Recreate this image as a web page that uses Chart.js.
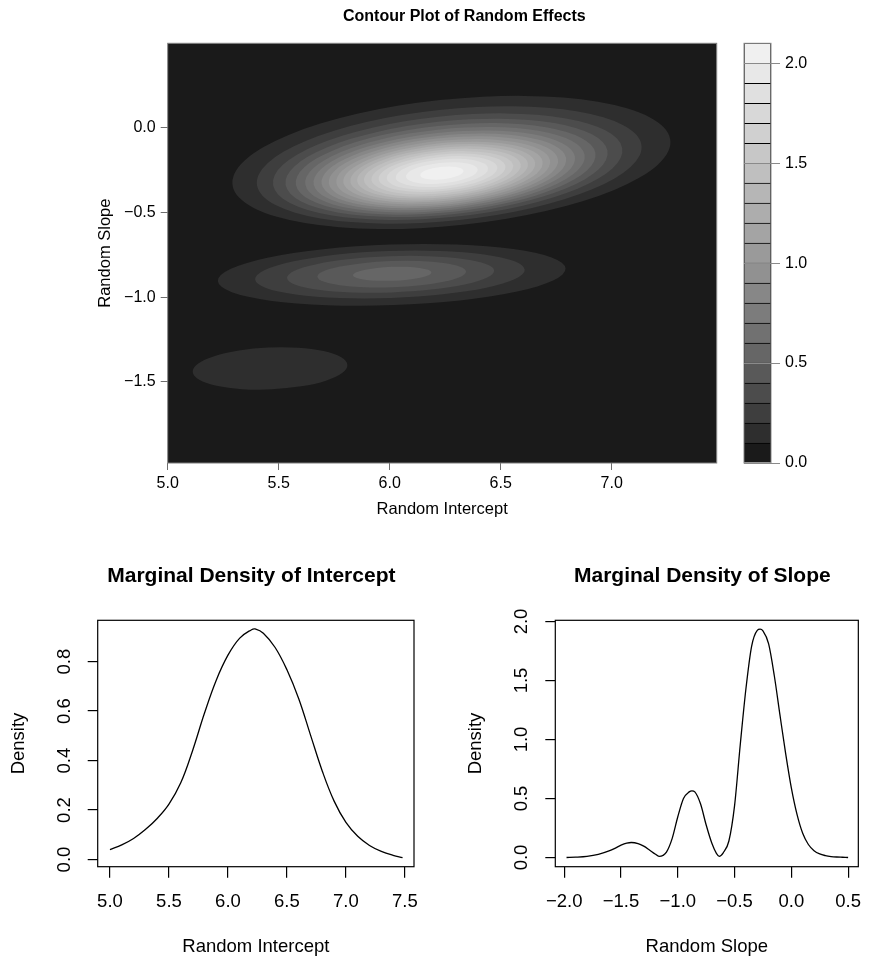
<!DOCTYPE html>
<html>
<head>
<meta charset="utf-8">
<title>Contour Plot of Random Effects</title>
<script src="https://cdn.jsdelivr.net/npm/chart.js@4.4.1/dist/chart.umd.min.js"></script>
<style>
  html, body { margin: 0; padding: 0; background: #fff; overflow: hidden; }
  #figure { position: relative; width: 874px; height: 959px; }
  #figure canvas { position: absolute; }
</style>
</head>
<body>
<div id="figure">
  <canvas id="contour" width="740" height="540" style="left:0;top:0"></canvas>
  <canvas id="key" width="144" height="540" style="left:730px;top:0"></canvas>
  <canvas id="intercept" width="437" height="419" style="left:0;top:540px"></canvas>
  <canvas id="slope" width="437" height="419" style="left:437px;top:540px"></canvas>
</div>
<script>
// ---- data ----

// contour levels of the joint density, one filled ellipse per level
// (centre, half-axes in data units, tilt in degrees)
const upperLevels = [0.1, 0.2, 0.3, 0.4, 0.5, 0.6, 0.7, 0.8, 0.9, 1.0, 1.1, 1.2, 1.3, 1.4, 1.5, 1.6, 1.7, 1.8, 1.9, 2.0];
const upperCx = [6.278, 6.268, 6.261, 6.256, 6.252, 6.249, 6.246, 6.244, 6.242, 6.241, 6.240, 6.239, 6.238, 6.237, 6.237, 6.236, 6.236, 6.235, 6.235, 6.235];
const upperCy = [-0.204, -0.219, -0.229, -0.236, -0.242, -0.247, -0.251, -0.254, -0.257, -0.259, -0.261, -0.262, -0.263, -0.264, -0.265, -0.265, -0.266, -0.266, -0.267, -0.267];
const upperRx = [0.995, 0.874, 0.794, 0.732, 0.681, 0.635, 0.594, 0.556, 0.521, 0.486, 0.453, 0.420, 0.388, 0.356, 0.322, 0.288, 0.251, 0.210, 0.163, 0.098];
const upperRy = [0.372, 0.328, 0.298, 0.275, 0.256, 0.239, 0.223, 0.209, 0.196, 0.183, 0.170, 0.158, 0.146, 0.134, 0.121, 0.108, 0.094, 0.079, 0.061, 0.037];
const upperTilt = 8;

const middleLevels = [0.1, 0.2, 0.3, 0.4, 0.5];
const middleCx = [6.009, 6.001, 6.004, 6.009, 6.011];
const middleCy = [-0.868, -0.866, -0.865, -0.864, -0.862];
const middleRx = [0.784, 0.608, 0.467, 0.335, 0.177];
const middleRy = [0.179, 0.139, 0.107, 0.077, 0.041];
const middleTilt = 2.7;

const lowerLevels = [0.1];
const lowerCx = [5.461];
const lowerCy = [-1.421];
const lowerRx = [0.349];
const lowerRy = [0.124];
const lowerTilt = 3.5;

// colour key breaks
const keyBreaks = [0.0, 0.1, 0.2, 0.3, 0.4, 0.5, 0.6, 0.7, 0.8, 0.9, 1.0, 1.1, 1.2, 1.3, 1.4, 1.5, 1.6, 1.7, 1.8, 1.9, 2.0, 2.1];

// marginal densities
const interceptX = [5.00, 5.10, 5.20, 5.30, 5.40, 5.50, 5.60, 5.70, 5.80, 5.90, 6.00, 6.10, 6.20, 6.23, 6.30, 6.40, 6.50, 6.60, 6.70, 6.80, 6.90, 7.00, 7.10, 7.20, 7.30, 7.40, 7.48];
const interceptDensity = [0.040, 0.059, 0.085, 0.121, 0.166, 0.224, 0.310, 0.440, 0.590, 0.724, 0.826, 0.895, 0.929, 0.932, 0.915, 0.857, 0.767, 0.650, 0.503, 0.357, 0.236, 0.150, 0.094, 0.057, 0.033, 0.017, 0.008];

const slopeX = [-1.98, -1.90, -1.80, -1.70, -1.60, -1.55, -1.50, -1.45, -1.41, -1.35, -1.30, -1.25, -1.20, -1.165, -1.13, -1.10, -1.05, -1.00, -0.95, -0.90, -0.875, -0.85, -0.80, -0.75, -0.70, -0.66, -0.635, -0.60, -0.55, -0.50, -0.45, -0.40, -0.35, -0.30, -0.275, -0.25, -0.20, -0.15, -0.10, -0.05, 0.00, 0.05, 0.10, 0.15, 0.20, 0.25, 0.30, 0.35, 0.40, 0.45, 0.50];
const slopeDensity = [0.000, 0.003, 0.010, 0.027, 0.058, 0.080, 0.104, 0.121, 0.127, 0.118, 0.096, 0.064, 0.030, 0.010, 0.018, 0.045, 0.160, 0.345, 0.500, 0.556, 0.565, 0.556, 0.455, 0.275, 0.120, 0.035, 0.010, 0.040, 0.140, 0.440, 0.955, 1.430, 1.790, 1.925, 1.935, 1.920, 1.810, 1.540, 1.206, 0.880, 0.590, 0.365, 0.205, 0.110, 0.058, 0.030, 0.016, 0.008, 0.004, 0.002, 0.000];

// tick labels
const contourXTicks = [5.0, 5.5, 6.0, 6.5, 7.0];
const contourYTicks = [-1.5, -1.0, -0.5, 0.0];
const keyTicks = [0.0, 0.5, 1.0, 1.5, 2.0];
const interceptXTicks = [5.0, 5.5, 6.0, 6.5, 7.0, 7.5];
const interceptYTicks = [0.0, 0.2, 0.4, 0.6, 0.8];
const slopeXTicks = [-2.0, -1.5, -1.0, -0.5, 0.0, 0.5];
const slopeYTicks = [0.0, 0.5, 1.0, 1.5, 2.0];

// grey ramp for the bands of the key (styles, not data)
const bandColors = ['#1a1a1a', '#2e2e2e', '#3e3e3e', '#4c4c4c', '#595959', '#666666', '#717171',
  '#7c7c7c', '#878787', '#919191', '#9a9a9a', '#a4a4a4', '#adadad', '#b6b6b6', '#bfbfbf',
  '#c7c7c7', '#d0d0d0', '#d8d8d8', '#e0e0e0', '#e8e8e8', '#f0f0f0'];

// ---- helpers ----
Chart.defaults.font.family = '"Liberation Sans", Arial, Helvetica, sans-serif';
Chart.defaults.font.size = 16;
Chart.defaults.color = '#000';
Chart.defaults.animation = false;
Chart.defaults.plugins.legend.display = false;
Chart.defaults.plugins.tooltip.enabled = false;

const fmt = v => (v < 0 ? '\u2212' : '') + Math.abs(v).toFixed(1);
const fixTicks = list => axis => { axis.ticks = list.map(v => ({ value: v })); };

const panelBox = {
  id: 'panelBox',
  defaults: { color: '#000', width: 1 },
  afterDatasetsDraw(chart, args, opts) {
    const { ctx, chartArea: a } = chart;
    ctx.save();
    ctx.strokeStyle = opts.color;
    ctx.lineWidth = opts.width;
    ctx.strokeRect(a.left, a.top, a.right - a.left, a.bottom - a.top);
    ctx.restore();
  }
};

const figureText = {
  id: 'figureText',
  defaults: { items: [] },
  afterDraw(chart, args, opts) {
    const { ctx, chartArea: a } = chart;
    opts.items.forEach(t => {
      ctx.save();
      ctx.font = t.font;
      ctx.fillStyle = '#000';
      ctx.textAlign = t.align;
      ctx.textBaseline = 'alphabetic';
      const x = t.align === 'center' ? (a.left + a.right) / 2 + t.dx : t.dx;
      ctx.fillText(t.text, x, t.y);
      ctx.restore();
    });
  }
};

// filled contour bands, drawn through the chart's x/y scales
const contourBands = {
  id: 'contourBands',
  beforeDatasetsDraw(chart, args, opts) {
    const { ctx, chartArea: a, scales: { x, y } } = chart;
    ctx.save();
    ctx.beginPath();
    ctx.rect(a.left, a.top, a.right - a.left, a.bottom - a.top);
    ctx.clip();
    ctx.fillStyle = bandColors[0];
    ctx.fillRect(a.left, a.top, a.right - a.left, a.bottom - a.top);
    opts.blobs.forEach(b => {
      b.levels.forEach((lev, i) => {
        const px = x.getPixelForValue(b.cx[i]);
        const py = y.getPixelForValue(b.cy[i]);
        const kx = x.getPixelForValue(b.cx[i] + 1) - px;
        const ky = y.getPixelForValue(b.cy[i] + 1) - py;
        ctx.save();
        ctx.translate(px, py);
        ctx.scale(kx, ky);
        ctx.beginPath();
        ctx.ellipse(0, 0, b.rx[i], b.ry[i], b.tilt * Math.PI / 180, 0, 2 * Math.PI);
        ctx.restore();
        ctx.fillStyle = bandColors[Math.round(lev * 10)];
        ctx.fill();
      });
    });
    ctx.restore();
  }
};

// ---- contour plot ----
new Chart(document.getElementById('contour'), {
  type: 'scatter',
  data: { datasets: [] },
  plugins: [contourBands, panelBox, figureText],
  options: {
    responsive: false,
    devicePixelRatio: 1,
    layout: { padding: { top: 43.3, right: 23.3, left: 0, bottom: 0 } },
    scales: {
      x: {
        type: 'linear', min: 5.0, max: 7.473,
        afterBuildTicks: fixTicks(contourXTicks),
        afterFit: s => { s.height = 77; },
        border: { display: false },
        grid: { drawOnChartArea: false, tickLength: 7, color: '#6e6e6e' },
        ticks: { padding: 4, autoSkip: false, maxRotation: 0, callback: v => fmt(v) },
        title: { display: true, text: 'Random Intercept', font: { size: 16.5 }, padding: { top: 0, bottom: 20.6 } }
      },
      y: {
        type: 'linear', min: -1.98, max: 0.5,
        afterBuildTicks: fixTicks(contourYTicks),
        afterFit: s => { s.width = 167.7; },
        border: { display: false },
        grid: { drawOnChartArea: false, tickLength: 7, color: '#6e6e6e' },
        ticks: { padding: 5, autoSkip: false, callback: v => fmt(v) },
        title: { display: true, text: 'Random Slope', font: { size: 16.5 }, padding: { top: 96, bottom: 0 } }
      }
    },
    plugins: {
      contourBands: {
        blobs: [
          { levels: upperLevels, cx: upperCx, cy: upperCy, rx: upperRx, ry: upperRy, tilt: upperTilt },
          { levels: middleLevels, cx: middleCx, cy: middleCy, rx: middleRx, ry: middleRy, tilt: middleTilt },
          { levels: lowerLevels, cx: lowerCx, cy: lowerCy, rx: lowerRx, ry: lowerRy, tilt: lowerTilt }
        ]
      },
      panelBox: { color: '#7a7a7a', width: 1 },
      figureText: {
        items: [{ text: 'Contour Plot of Random Effects', font: 'bold 16px "Liberation Sans", Arial, sans-serif', align: 'left', dx: 343, y: 20.7 }]
      }
    }
  }
});

// ---- colour key ----
new Chart(document.getElementById('key'), {
  type: 'bar',
  data: {
    labels: [''],
    datasets: keyBreaks.slice(0, -1).map((lo, i) => ({
      data: [[lo, keyBreaks[i + 1]]],
      backgroundColor: bandColors[i],
      borderColor: '#000',
      borderWidth: 1,
      borderSkipped: 'bottom',
      barPercentage: 1,
      categoryPercentage: 1,
      grouped: false
    }))
  },
  plugins: [panelBox],
  options: {
    responsive: false,
    devicePixelRatio: 1,
    layout: { padding: { left: 14, top: 43.3, bottom: 77, right: 0 } },
    scales: {
      x: { display: false },
      y: {
        position: 'right', min: 0, max: 2.1,
        afterBuildTicks: fixTicks(keyTicks),
        afterFit: s => { s.width = 103; },
        border: { display: false },
        grid: { z: 1, color: '#8a8a8a', tickLength: 9 },
        ticks: { padding: 5, autoSkip: false, callback: v => fmt(v) }
      }
    },
    plugins: { panelBox: { color: '#888', width: 1 } }
  }
});

// ---- marginal densities ----
function densityChart(id, xs, ys, opt) {
  return new Chart(document.getElementById(id), {
    type: 'line',
    data: {
      datasets: [{
        data: xs.map((x, i) => ({ x: x, y: ys[i] })),
        borderColor: '#000',
        borderWidth: 1.3,
        pointRadius: 0,
        cubicInterpolationMode: opt.curve,
        tension: 0.4,
        fill: false
      }]
    },
    plugins: [panelBox, figureText],
    options: {
      responsive: false,
      devicePixelRatio: 1,
      layout: { padding: { top: 80.3, right: opt.padRight, left: 0, bottom: 0 } },
      scales: {
        x: {
          type: 'linear', min: opt.xMin, max: opt.xMax,
          afterBuildTicks: fixTicks(opt.xTicks),
          afterFit: s => { s.height = 92.3; },
          border: { display: false },
          grid: { drawOnChartArea: false, tickLength: 11, color: '#000', lineWidth: 1.2 },
          ticks: { padding: 12.9, autoSkip: false, maxRotation: 0, font: { size: 18.5 }, callback: v => fmt(v) },
          title: { display: true, text: opt.xTitle, font: { size: 18.5 }, padding: { top: 0, bottom: 1.2 } }
        },
        y: {
          type: 'linear', min: opt.yMin, max: opt.yMax,
          afterBuildTicks: fixTicks(opt.yTicks),
          afterFit: s => { s.width = opt.yWidth; },
          border: { display: false },
          grid: { drawOnChartArea: false, tickLength: 10, color: '#000', lineWidth: 1.2 },
          ticks: { padding: opt.yTickPad, autoSkip: false, minRotation: 90, maxRotation: 90, crossAlign: 'center', font: { size: 18.5 }, callback: v => fmt(v) },
          title: { display: true, text: 'Density', font: { size: 18.5 }, padding: { top: opt.yTitlePad, bottom: 0 } }
        }
      },
      plugins: {
        panelBox: { color: '#000', width: 1.2 },
        figureText: {
          items: [{ text: opt.title, font: 'bold 21px "Liberation Sans", Arial, sans-serif', align: 'center', dx: -4.5, y: 41.7 }]
        }
      }
    }
  });
}

densityChart('intercept', interceptX, interceptDensity, {
  title: 'Marginal Density of Intercept', xTitle: 'Random Intercept',
  xMin: 4.896, xMax: 7.577, yMin: -0.029, yMax: 0.967,
  xTicks: interceptXTicks, yTicks: interceptYTicks, curve: 'default',
  yWidth: 97.7, padRight: 23, yTickPad: 9.8, yTitlePad: 7.9
});

densityChart('slope', slopeX, slopeDensity, {
  title: 'Marginal Density of Slope', xTitle: 'Random Slope',
  xMin: -2.079, xMax: 0.59, yMin: -0.078, yMax: 2.01,
  xTicks: slopeXTicks, yTicks: slopeYTicks, curve: 'monotone',
  yWidth: 118.3, padRight: 4, yTickPad: 10.7, yTitlePad: 27.7
});
</script>
</body>
</html>
